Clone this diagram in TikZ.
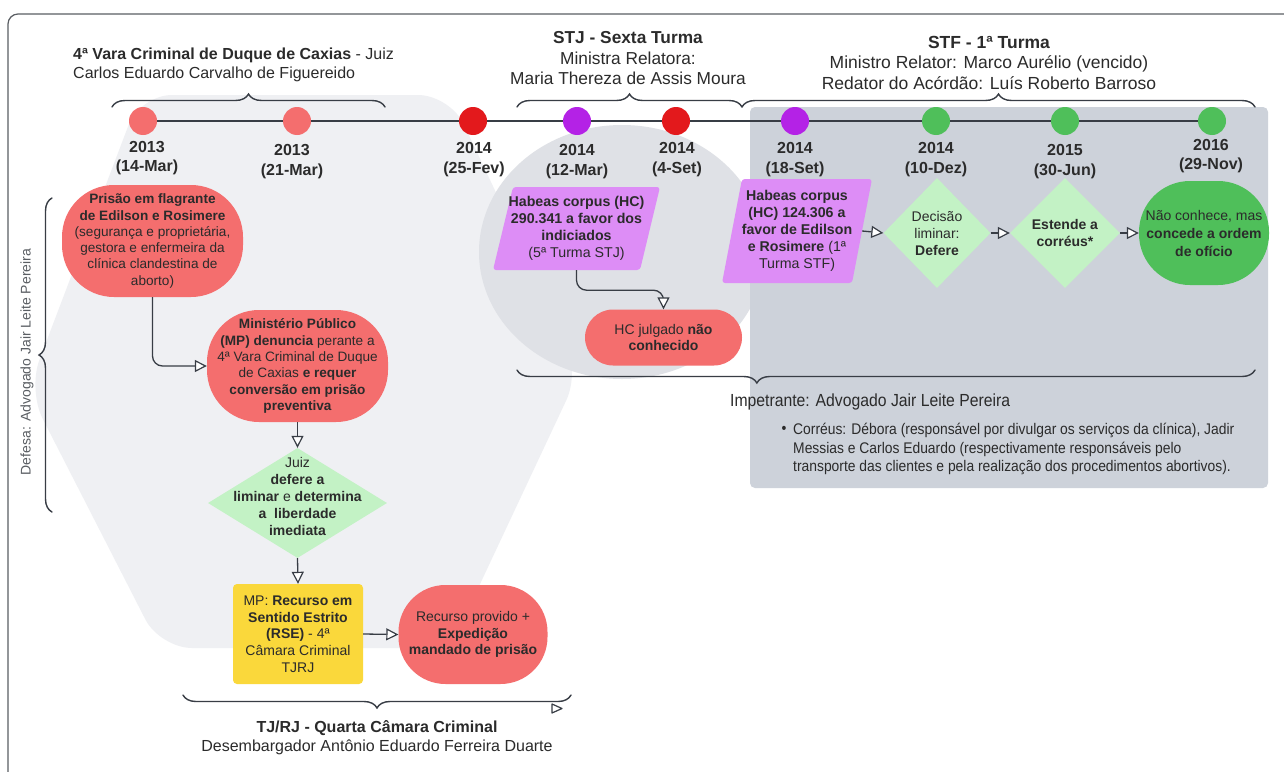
\documentclass[tikz,border=0pt]{standalone}
\usepackage{fontspec}
\setmainfont{Liberation Sans}
\newfontfamily\narrowfont[FakeStretch=0.9]{Liberation Sans}
\usetikzlibrary{shapes.geometric,arrows.meta,decorations.pathreplacing}
\definecolor{salmon}{HTML}{F46E6E}
\definecolor{redd}{HTML}{E3191C}
\definecolor{purpd}{HTML}{B422E6}
\definecolor{purpn}{HTML}{DD8DF6}
\definecolor{greend}{HTML}{4FBF5A}
\definecolor{lgreen}{HTML}{C3F2C5}
\definecolor{yell}{HTML}{FAD83B}
\definecolor{bgA}{HTML}{EFF0F3}
\definecolor{bgB}{HTML}{DFE1E6}
\definecolor{bgC}{HTML}{CDD2DA}
\definecolor{linec}{HTML}{383D45}
\definecolor{txtc}{HTML}{2B2B2B}
\definecolor{framec}{HTML}{5A5E63}
\tikzset{
 lnk/.style={draw=linec, line width=1.3pt, -{Triangle[fill=white, length=12pt, width=12pt, line width=1.2pt]}},
 brc/.style={draw=linec, line width=1.4pt, line cap=round, decorate, decoration={brace, amplitude=13pt}},
 brcb/.style={brc, decoration={brace, amplitude=13pt, aspect=#1}},
 dot/.style={circle, minimum size=28pt, inner sep=0, fill=#1},
 datel/.style={font=\fontsize{16}{19.5}\selectfont\bfseries, text=txtc, align=center, inner sep=0},
 box/.style={rectangle, inner sep=0, align=center, text=txtc, font=\fontsize{13.6}{16.3}\selectfont},
 salm/.style={box, fill=salmon},
 pgram/.style={box, font=\fontsize{14.2}{17}\selectfont, path picture={\fill[purpn, rounded corners=3pt] ([xshift=#1]path picture bounding box.north west) -- (path picture bounding box.north east) -- ([xshift=-#1]path picture bounding box.south east) -- (path picture bounding box.south west) -- cycle;}},
 dmd/.style={diamond, fill=lgreen, inner sep=0},
 dtxt/.style={align=center, inner sep=0, text=txtc, font=\fontsize{14}{17}\selectfont},
 hdr/.style={inner sep=0, text=txtc},
}
\begin{document}
\begin{tikzpicture}[x=1pt,y=1pt]
\useasboundingbox (0,0) rectangle (1284,-771);
\fill[white] (0,0) rectangle (1284,-771);
% frame
\draw[framec, line width=1.2pt, rounded corners=10pt] (1300,-14) -- (8,-14) -- (8,-790);
% background regions
\fill[bgA, rounded corners=32pt] (140,-95) -- (450,-95) -- (580,-371) -- (450,-648) -- (160,-648) -- (28,-390) -- cycle;
\fill[bgB] (622,-252) ellipse [x radius=143, y radius=127];
\fill[bgC, rounded corners=5pt] (750,-107) rectangle (1268,-488);

% headers
\node[hdr, anchor=west, align=left, font=\fontsize{16}{19}\selectfont] (h1) at (73,-65) {\textbf{4ª Vara Criminal de Duque de Caxias} - Juiz\\Carlos Eduardo Carvalho de Figuereido};
\node[hdr, align=center, font=\fontsize{17.3}{20.5}\selectfont] (h2) at (628,-58.5) {\textbf{STJ - Sexta Turma}\\Ministra Relatora:\\Maria Thereza de Assis Moura};
\node[hdr, align=center, font=\fontsize{17.5}{20.5}\selectfont] (h3) at (989,-62.5) {\textbf{STF - 1ª Turma}\\Ministro Relator: Marco Aurélio (vencido)\\Redator do Acórdão: Luís Roberto Barroso};

% braces
\coordinate (b1a) at (112,-107); \coordinate (b1b) at (385,-107);
\coordinate (b2a) at (517,-107); \coordinate (b2b) at (742,-107);
\coordinate (b3a) at (742,-107); \coordinate (b3b) at (1255,-107);
\draw[brc] (b1a) -- (b1b);
\draw[brc] (b2a) -- (b2b);
\draw[brc] (b3a) -- (b3b);
\coordinate (b4a) at (52,-512); \coordinate (b4b) at (52,-198);
\draw[brc] (b4a) -- (b4b);
\coordinate (b5a) at (1255,-370); \coordinate (b5b) at (517,-370);
\draw[brcb=0.675] (b5a) -- (b5b);
\coordinate (b6a) at (571,-695); \coordinate (b6b) at (183,-695);
\draw[brc] (b6a) -- (b6b);
\draw[linec, line width=1.2pt, fill=white, line join=round] (552,-704) -- (562,-708.5) -- (552,-713) -- cycle;

% timeline
\node[dot=salmon] (c1) at (143,-121) {};
\node[dot=salmon] (c2) at (297,-121) {};
\node[dot=redd] (c3) at (473,-121) {};
\node[dot=purpd] (c4) at (577,-121) {};
\node[dot=redd] (c5) at (676,-121) {};
\node[dot=purpd] (c6) at (795,-121) {};
\node[dot=greend] (c7) at (936,-121) {};
\node[dot=greend] (c8) at (1065,-121) {};
\node[dot=greend] (c9) at (1212,-121) {};
\draw[linec, line width=2pt] (c1) -- (c2) -- (c3) -- (c4) -- (c5) -- (c6) -- (c7) -- (c8) -- (c9);

\node[datel] (t1) at (147,-158) {2013\\(14-Mar)};
\node[datel] (t2) at (292,-161.5) {2013\\(21-Mar)};
\node[datel] (t3) at (474,-159.5) {2014\\(25-Fev)};
\node[datel] (t4) at (577,-161.5) {2014\\(12-Mar)};
\node[datel] (t5) at (677,-159.5) {2014\\(4-Set)};
\node[datel] (t6) at (795,-159.5) {2014\\(18-Set)};
\node[datel] (t7) at (936,-159.5) {2014\\(10-Dez)};
\node[datel] (t8) at (1065,-161.5) {2015\\(30-Jun)};
\node[datel] (t9) at (1211,-156) {2016\\(29-Nov)};

% left column
\node[salm, minimum width=181, minimum height=112, rounded corners=52pt] (n1) at (152.5,-241) {\textbf{Prisão em flagrante}\\\textbf{de Edilson e Rosimere}\\(segurança e proprietária,\\gestora e enfermeira da\\clínica clandestina de\\aborto)};
\node[salm, minimum width=181, minimum height=112, rounded corners=52pt] (n2) at (297.5,-366) {\textbf{Ministério Público}\\\textbf{(MP) denuncia} perante a\\4ª Vara Criminal de Duque\\de Caxias \textbf{e requer}\\\textbf{conversão em prisão}\\\textbf{preventiva}};
\node[dmd, minimum width=179, minimum height=110] (d1) at (297.5,-503) {};
\node[dtxt] (d1t) at (297.5,-496) {Juiz\\\textbf{defere a}\\\textbf{liminar} e \textbf{determina}\\\textbf{a~ liberdade}\\\textbf{imediata}};
\node[box, fill=yell, minimum width=130, minimum height=100, rounded corners=4pt, font=\fontsize{14}{16.7}\selectfont] (y1) at (298,-634) {MP: \textbf{Recurso em}\\\textbf{Sentido Estrito}\\\textbf{(RSE)} - 4ª\\Câmara Criminal\\TJRJ};
\node[salm, minimum width=149, minimum height=99, rounded corners=47pt, font=\fontsize{14}{16.7}\selectfont] (n5) at (473,-634.5) {Recurso provido +\\\textbf{Expedição}\\\textbf{mandado de prisão}};

\draw[lnk, rounded corners=10pt] (n1.south) |- (n2.west);
\draw[lnk] (n2.south) -- (d1.north);
\draw[lnk] (d1.south) -- (y1.north);
\draw[lnk] (y1.east) -- (n5.west);

% STJ
\node[pgram=20pt, minimum width=167, minimum height=83] (hc1) at (576.5,-228.5) {\textbf{Habeas corpus (HC)}\\\textbf{290.341 a favor dos}\\\textbf{indiciados}\\(5ª Turma STJ)};
\node[salm, minimum width=157, minimum height=56, rounded corners=28pt, font=\fontsize{14}{16.5}\selectfont] (n7) at (663.5,-337.5) {HC julgado \textbf{não}\\\textbf{conhecido}};
\draw[lnk, rounded corners=10pt] (hc1.south) -- ++(0,-20) -| (n7.north);

% STF
\node[pgram=20pt, minimum width=150, minimum height=104] (hc2) at (797,-231) {\textbf{Habeas corpus}\\\textbf{(HC) 124.306 a}\\\textbf{favor de Edilson}\\\textbf{e Rosimere} (1ª\\Turma STF)};
\node[dmd, minimum width=107, minimum height=110] (d2) at (937,-233) {};
\node[dtxt] (d2t) at (d2) {Decisão\\liminar:\\\textbf{Defere}};
\node[dmd, minimum width=110, minimum height=110] (d3) at (1065,-233) {};
\node[dtxt] (d3t) at (d3) {\textbf{Estende a}\\\textbf{corréus*}};
\node[box, fill=greend, minimum width=130, minimum height=104, rounded corners=51pt, font=\fontsize{14}{18}\selectfont] (g1) at (1204,-233) {Não conhece, mas\\\textbf{concede a ordem}\\\textbf{de ofício}};
\draw[lnk] ([xshift=-10pt]hc2.east) -- (d2.west);
\draw[lnk] (d2.east) -- (d3.west);
\draw[lnk] (d3.east) -- (g1.west);

% bottom texts
\node[hdr, anchor=west, font=\narrowfont\fontsize{17.5}{21}\selectfont] (imp) at (730,-402) {Impetrante: Advogado Jair Leite Pereira};
\node[hdr, font=\narrowfont\fontsize{15.4}{18.5}\selectfont] (bul) at (784,-430) {•};
\node[hdr, anchor=west, align=left, font=\narrowfont\fontsize{15.4}{18.5}\selectfont] (cor) at (793,-449) {Corréus: Débora (responsável por divulgar os serviços da clínica), Jadir\\Messias e Carlos Eduardo (respectivamente responsáveis pelo\\transporte das clientes e pela realização dos procedimentos abortivos).};
\node[hdr, align=center, font=\fontsize{16}{19}\selectfont] (tj) at (377,-737.5) {\textbf{TJ/RJ - Quarta Câmara Criminal}\\Desembargador Antônio Eduardo Ferreira Duarte};
\node[hdr, rotate=90, text=framec, font=\fontsize{14}{17}\selectfont] (def) at (27,-362) {Defesa: Advogado Jair Leite Pereira};
\end{tikzpicture}
\end{document}
